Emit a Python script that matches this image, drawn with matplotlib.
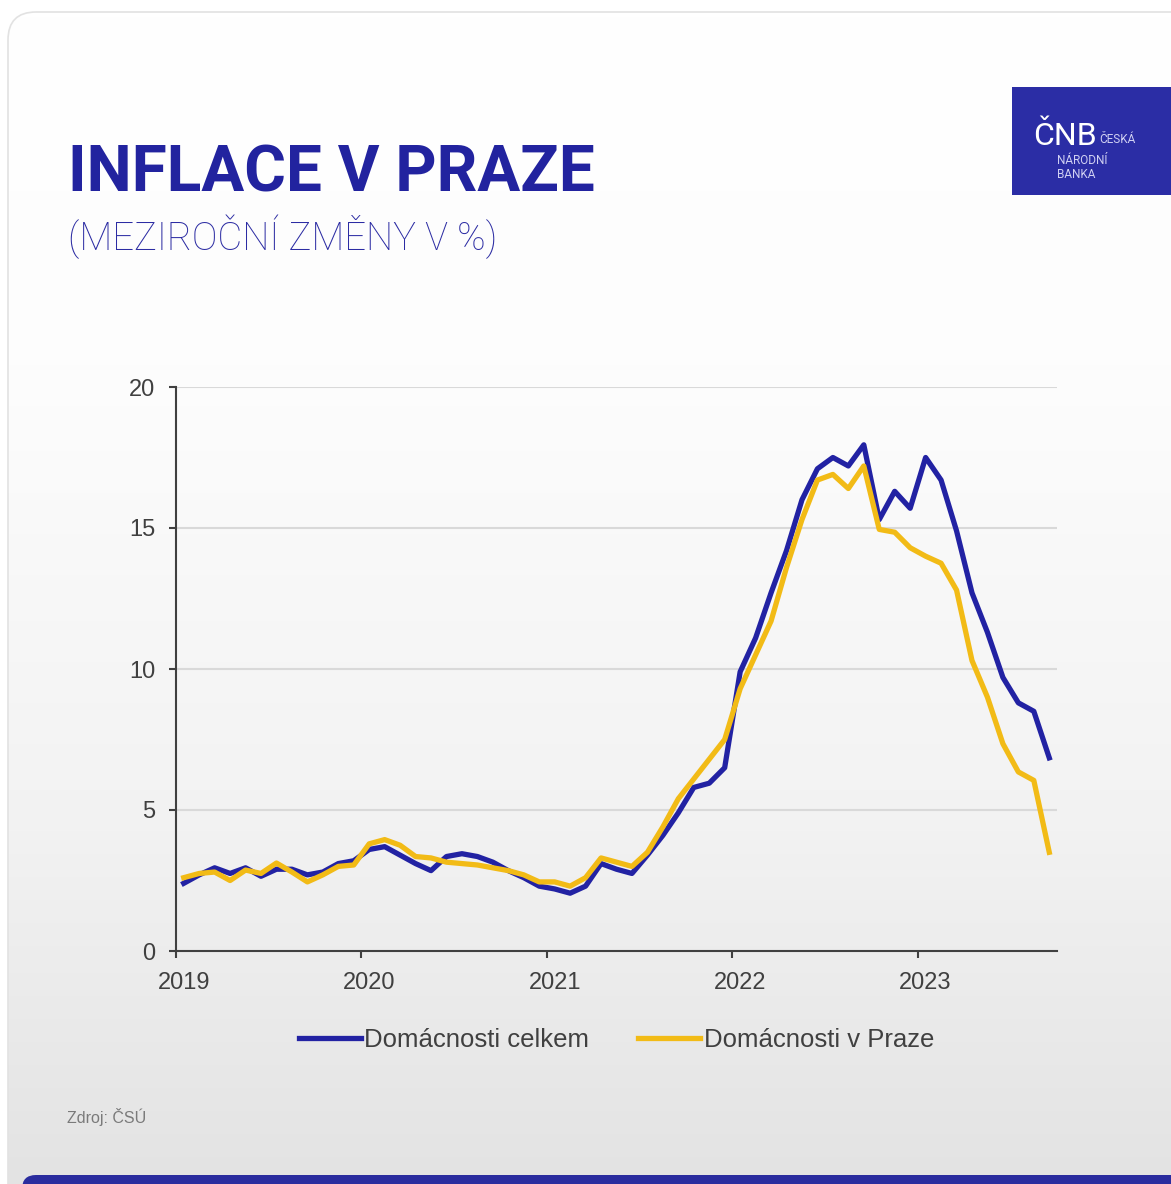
import numpy as np
import matplotlib
matplotlib.use("Agg")
import matplotlib.pyplot as plt
from matplotlib import font_manager
from matplotlib.patches import FancyBboxPatch, Rectangle
from matplotlib.colors import LinearSegmentedColormap

# data: year-on-year inflation, monthly Jan 2019 - Sep 2023
years = ["2019", "2020", "2021", "2022", "2023"]
celkem = [
    2.4, 2.7, 2.95, 2.75, 2.95, 2.65, 2.9, 2.9, 2.7, 2.8, 3.1, 3.2,
    3.6, 3.7, 3.4, 3.1, 2.85, 3.35, 3.45, 3.35, 3.15, 2.85, 2.6, 2.3,
    2.2, 2.05, 2.3, 3.1, 2.9, 2.75, 3.4, 4.1, 4.9, 5.8, 5.95, 6.5,
    9.9, 11.1, 12.7, 14.2, 16.0, 17.1, 17.5, 17.2, 17.95, 15.3, 16.3, 15.7,
    17.5, 16.7, 14.9, 12.7, 11.3, 9.7, 8.8, 8.5, 6.85,
]
praha = [
    2.6, 2.75, 2.8, 2.5, 2.87, 2.75, 3.12, 2.8, 2.45, 2.7, 3.0, 3.05,
    3.8, 3.95, 3.75, 3.35, 3.3, 3.15, 3.1, 3.05, 2.95, 2.85, 2.7, 2.45,
    2.45, 2.3, 2.6, 3.3, 3.15, 3.0, 3.5, 4.4, 5.4, 6.1, 6.8, 7.5,
    9.3, 10.5, 11.7, 13.6, 15.3, 16.7, 16.9, 16.4, 17.2, 14.95, 14.85, 14.3,
    14.0, 13.75, 12.8, 10.3, 9.0, 7.35, 6.35, 6.05, 3.5,
]

BLUE = "#2222a3"
YELLOW = "#f2bb16"
GREY = "#404040"

names = {f.name for f in font_manager.fontManager.ttflist}
head = "Roboto" if "Roboto" in names else "DejaVu Sans"
sans = "Liberation Sans" if "Liberation Sans" in names else "DejaVu Sans"
plt.rcParams["font.family"] = [sans, "DejaVu Sans"]

W, H = 1171, 1184
fig = plt.figure(figsize=(W / 100, H / 100), dpi=100)
fig.patch.set_facecolor("white")

# background card with soft vertical gradient
bg = fig.add_axes([0, 0, 1, 1])
bg.set_xlim(0, W)
bg.set_ylim(H, 0)
bg.axis("off")
rows = np.linspace(0, 1, 256).reshape(-1, 1)
cmap = LinearSegmentedColormap.from_list(
    "card", [(0, "#ffffff"), (0.3, "#fdfdfd"), (0.7, "#f2f2f2"), (1, "#e3e3e3")])
card = FancyBboxPatch((8, 12), W + 40, H + 40, boxstyle="round,pad=0,rounding_size=28",
                      facecolor="none", edgecolor="#e2e2e2", lw=1.2)
bg.add_patch(card)
img = bg.imshow(rows, cmap=cmap, aspect="auto", extent=[8, W, 1184, 12], zorder=0)
img.set_clip_path(card)
bar = FancyBboxPatch((22, 1175), W + 30, 30, boxstyle="round,pad=0,rounding_size=14",
                     facecolor="#2a2c9e", edgecolor="none")
bg.add_patch(bar)

# logo
bg.add_patch(Rectangle((1012, 87), 159, 108, facecolor="#2b2da5", edgecolor="none"))
bg.text(1033, 145, "ČNB", color="white", fontsize=23, family=head, va="baseline")
bg.text(1099, 143, "ČESKÁ", color="#d0d0f2", fontsize=8.5, family=head, va="baseline")
bg.text(1057, 164, "NÁRODNÍ", color="#d0d0f2", fontsize=8.5, family=head, va="baseline")
bg.text(1057, 178, "BANKA", color="#d0d0f2", fontsize=8.5, family=head, va="baseline")

# titles
fig.text(68 / W, 1 - 192 / H, "INFLACE V PRAZE", color="#22239f", fontsize=46,
         fontweight="bold", family=head, va="baseline")
fig.text(68 / W, 1 - 250 / H, "(MEZIROČNÍ ZMĚNY V %)", color="#2c2ca3", fontsize=27.5,
         fontweight="light", family=head, va="baseline")
fig.text(67 / W, 1 - 1123 / H, "Zdroj: ČSÚ", color="#7a7a7a", fontsize=11.5)

# chart
ax = fig.add_axes([176 / W, 1 - 951 / H, (1057 - 176) / W, (951 - 387) / H])
ax.patch.set_alpha(0)
x = np.arange(len(celkem))
ax.plot(x, celkem, color=BLUE, lw=3.8, solid_joinstyle="round", label="Domácnosti celkem", zorder=3)
ax.plot(x, praha, color=YELLOW, lw=3.8, solid_joinstyle="round", label="Domácnosti v Praze", zorder=4)

ax.set_xlim(-0.5, len(celkem) - 0.5)
ax.set_ylim(0, 20)
ax.set_yticks([0, 5, 10, 15, 20])
ax.grid(axis="y", color="#d9d9d9", lw=1.5)
ax.set_axisbelow(True)
for s in ["top", "right"]:
    ax.spines[s].set_visible(False)
for s in ["left", "bottom"]:
    ax.spines[s].set_color(GREY)
    ax.spines[s].set_linewidth(1.5)

ax.set_xticks([-0.5 + 12 * i for i in range(len(years))])
ax.set_xticklabels([])
ax.set_xticks([12 * i for i in range(len(years))], minor=True)
ax.set_xticklabels(years, minor=True)
ax.tick_params(axis="x", which="major", length=5, width=1.5, color=GREY)
ax.tick_params(axis="x", which="minor", length=0, pad=15, labelsize=17, labelcolor=GREY)
ax.tick_params(axis="y", length=5, width=1.5, color=GREY, pad=10, labelsize=17, labelcolor=GREY)

leg = ax.legend(loc="center", bbox_to_anchor=(0.5, (951 - 1040) / (951 - 387)), ncol=2,
                frameon=False, fontsize=18.5, handlelength=2.4, handletextpad=0.15,
                columnspacing=1.9)
for t in leg.get_texts():
    t.set_color(GREY)

fig.savefig("out.png", dpi=100)
